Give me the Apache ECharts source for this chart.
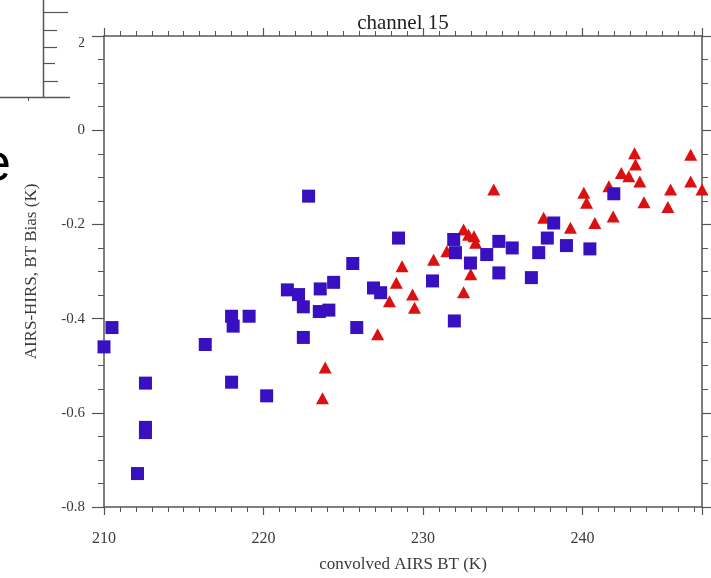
<!DOCTYPE html>
<html><head><meta charset="utf-8">
<script src="https://cdn.jsdelivr.net/npm/echarts@6/dist/echarts.min.js"></script>
<style>html,body{margin:0;padding:0;background:#fff}#c{width:711px;height:578px}</style>
</head><body><div id="c"></div>
<script>
const titleText = 'channel 15';
const xName = 'convolved AIRS BT (K)';
const yName = 'AIRS-HIRS, BT Bias (K)';
const xRange = [210, 247.5];
const yRange = [-0.8, 0.2];

const squareX = [210.0, 210.5, 212.6, 212.6, 212.6, 212.1, 216.35, 218.0, 218.1, 219.1, 218.0, 220.2,
  222.83, 225.6, 224.4, 223.56, 221.5, 222.2, 222.5, 223.5, 224.1, 222.5, 225.85, 226.9, 227.35,
  228.47, 230.6, 231.93, 232.04, 231.97, 232.98, 234.0, 234.76, 234.76, 235.6, 236.8, 237.26,
  237.8, 238.2, 239.0, 240.47, 241.97];
const squareY = [-0.460, -0.419, -0.537, -0.631, -0.642, -0.729, -0.455, -0.395, -0.416, -0.395, -0.535, -0.564,
  -0.140, -0.283, -0.323, -0.337, -0.339, -0.349, -0.375, -0.385, -0.382, -0.440, -0.419, -0.335, -0.345,
  -0.229, -0.320, -0.232, -0.260, -0.405, -0.282, -0.264, -0.236, -0.303, -0.250, -0.313, -0.260,
  -0.229, -0.197, -0.245, -0.252, -0.135];

const triX = [223.87, 223.7, 227.16, 227.9, 228.33, 228.69, 229.35, 229.47, 230.67, 231.5, 232.55, 232.86,
  233.2, 233.3, 233.0, 232.55, 234.44, 237.57, 239.25, 240.09, 240.26, 240.78, 241.93, 241.66, 242.44,
  242.91, 243.27, 243.33, 243.6, 243.86, 245.53, 245.36, 246.79, 246.79, 247.5];
const triY = [-0.504, -0.569, -0.433, -0.363, -0.324, -0.289, -0.349, -0.377, -0.275, -0.257, -0.211, -0.222,
  -0.225, -0.239, -0.306, -0.344, -0.126, -0.186, -0.207, -0.133, -0.154, -0.197, -0.183, -0.119, -0.091,
  -0.098, -0.049, -0.073, -0.109, -0.153, -0.126, -0.163, -0.052, -0.109, -0.126];

const serif = 'Liberation Serif, DejaVu Serif, serif';
const axisColor = '#555';
const lblColor = '#3a3a3a';

function xAxisCfg(pos, showLabel) {
  return {
    type: 'value', position: pos, min: xRange[0], max: xRange[1], interval: 10,
    axisLine: { show: true, onZero: false, lineStyle: { color: axisColor, width: 1.5 } },
    axisTick: { show: true, inside: false, length: 8, lineStyle: { color: axisColor, width: 1.2 } },
    minorTick: { show: true, splitNumber: 10, length: 5, lineStyle: { color: axisColor, width: 1 } },
    splitLine: { show: false },
    axisLabel: { show: showLabel, margin: 24, fontFamily: serif, fontSize: 16, color: lblColor, showMaxLabel: false },
    name: showLabel ? xName : '', nameLocation: 'middle', nameGap: 49,
    nameTextStyle: { fontFamily: serif, fontSize: 17, color: lblColor }
  };
}
function yAxisCfg(pos, showLabel) {
  return {
    type: 'value', position: pos, min: yRange[0], max: yRange[1], interval: 0.2,
    axisLine: { show: true, onZero: false, lineStyle: { color: axisColor, width: 1.5 } },
    axisTick: { show: true, inside: false, length: 12, lineStyle: { color: axisColor, width: 1.2 } },
    minorTick: { show: true, splitNumber: 4, length: 6, lineStyle: { color: axisColor, width: 1 } },
    splitLine: { show: false },
    axisLabel: { show: showLabel, margin: 19, fontFamily: serif, fontSize: 15, color: lblColor,
      verticalAlignMaxLabel: 'top',
      formatter: v => Math.abs(v) < 1e-9 ? '0' : v.toFixed(1) },
    name: showLabel ? yName : '', nameLocation: 'middle', nameGap: 64, nameRotate: 90,
    nameTextStyle: { fontFamily: serif, fontSize: 17, color: lblColor }
  };
}

const chart = echarts.init(document.getElementById('c'), null, { renderer: 'canvas' });
const L = (x1, y1, x2, y2, w) => ({ type: 'line', z: 100, shape: { x1, y1, x2, y2 },
  style: { stroke: axisColor, lineWidth: w } });
chart.setOption({
  backgroundColor: '#fff',
  animation: false,
  grid: { left: 104, right: 9, top: 36, bottom: 70 },
  xAxis: [xAxisCfg('bottom', true), xAxisCfg('top', false)],
  yAxis: [yAxisCfg('left', true), yAxisCfg('right', false)],
  series: [
    { type: 'scatter', symbol: 'triangle', symbolSize: [13, 12],
      itemStyle: { color: '#dc1010', opacity: 1 },
      data: triX.map((x, i) => [x, triY[i]]) },
    { type: 'scatter', symbol: 'rect', symbolSize: 13,
      itemStyle: { color: '#3810c0', opacity: 1 },
      data: squareX.map((x, i) => [x, squareY[i]]) }
  ],
  graphic: [
    { type: 'text', z: 50, style: { text: titleText, x: 403, y: 34, textAlign: 'center', textVerticalAlign: 'bottom',
      font: '21px ' + serif, fill: '#222' } },
    { type: 'rect', z: 100, shape: { x: 0, y: 0, width: 79, height: 98 }, style: { fill: '#fff' } },
    L(43.5, 0, 43.5, 97.5, 1.5),
    L(0, 97.5, 70, 97.5, 1.5),
    L(43.5, 12.5, 68, 12.5, 1.2),
    L(43.5, 30.5, 57, 30.5, 1.2),
    L(43.5, 47.5, 57, 47.5, 1.2),
    L(43.5, 63.5, 55, 63.5, 1.2),
    L(43.5, 81.5, 58, 81.5, 1.2),
    L(28.5, 97.5, 28.5, 101, 1),
    { type: 'text', z: 100, style: { text: 'e', x: 11, y: 192, textAlign: 'right', textVerticalAlign: 'bottom',
      font: '52px Liberation Sans, Arial, sans-serif', fill: '#000' } }
  ]
});
</script></body></html>
